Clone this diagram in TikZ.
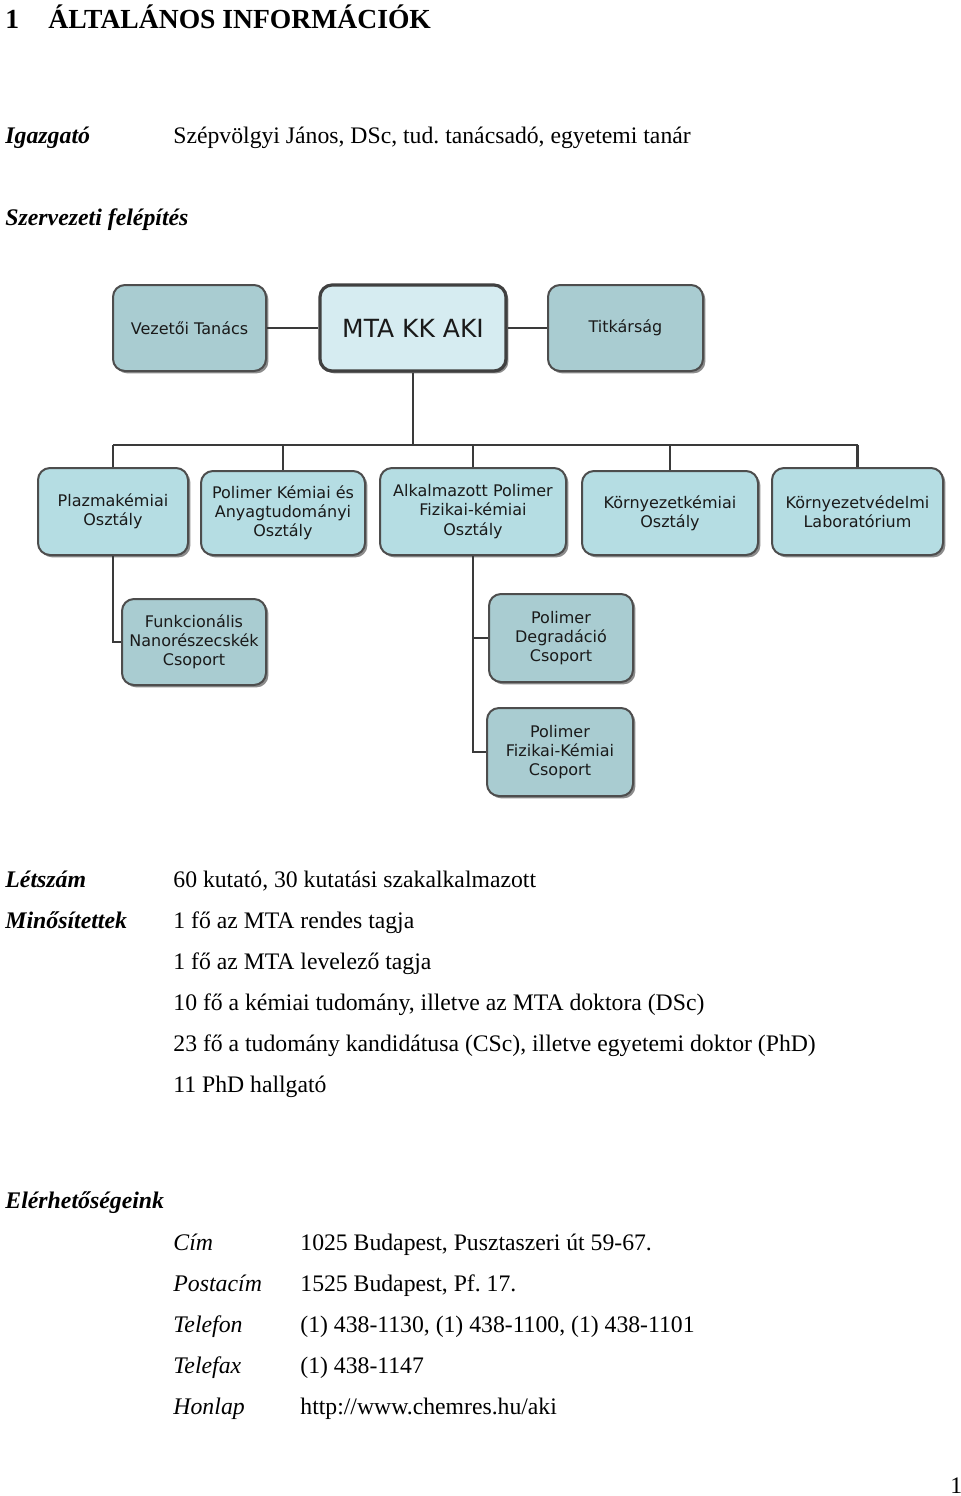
\documentclass[tikz,border=0pt]{standalone}
\usepackage{fontspec}
\setmainfont{Liberation Serif}
\newfontfamily\boxfont{DejaVu Sans}
\usetikzlibrary{shadows}
\frenchspacing
\definecolor{sidefill}{HTML}{A9CCD1}
\definecolor{mtafill}{HTML}{D6ECF1}
\definecolor{rowfill}{HTML}{B5DDE3}
\definecolor{subfill}{HTML}{A9CCD1}
\definecolor{boxline}{HTML}{4D4D4D}
\definecolor{conn}{HTML}{3A3A3A}
\definecolor{boxtext}{HTML}{1A1A1A}
\tikzset{
  lbl/.style={anchor=base west, inner sep=0pt, font=\fontsize{11.9}{14}\selectfont\bfseries\itshape},
  txt/.style={anchor=base west, inner sep=0pt, font=\fontsize{11.85}{14}\selectfont},
  itl/.style={anchor=base west, inner sep=0pt, font=\fontsize{11.9}{14}\selectfont\itshape},
  ttl/.style={anchor=base west, inner sep=0pt, font=\fontsize{13.8}{16}\selectfont\bfseries},
  orgbox/.style={draw=boxline, line width=1pt, rounded corners=6pt, align=center,
    inner sep=1pt, text=boxtext, font=\boxfont\fontsize{8}{9.6}\selectfont,
    drop shadow={shadow xshift=1.2pt, shadow yshift=-1.2pt, fill=black!45, opacity=1}},
  sidebox/.style={orgbox, fill=sidefill},
  mtabox/.style={orgbox, fill=mtafill, line width=1.6pt, draw=black!75, font=\boxfont\fontsize{12.5}{14}\selectfont},
  rowbox/.style={orgbox, fill=rowfill},
  subbox/.style={orgbox, fill=subfill},
  link/.style={draw=conn, line width=1.2pt}
}
\begin{document}
\begin{tikzpicture}[x=0.5pt, y=-0.5pt]
\useasboundingbox[fill=white] (0,0) rectangle (960,1496);

% --- heading and text ---
\node[ttl] (t1) at (5,28) {1};
\node[ttl] (t2) at (48,28) {ÁLTALÁNOS INFORMÁCIÓK};
\node[lbl] (ig) at (5,143) {Igazgató};
\node[txt] (igv) at (173,143) {\frenchspacing Szépvölgyi János, DSc, tud. tanácsadó, egyetemi tanár};
\node[lbl] (szf) at (5,225) {Szervezeti felépítés};

% --- org chart ---
\node[sidebox, minimum width=76.5pt, minimum height=43pt] (vez) at (189.5,328) {Vezetői Tanács};
\node[mtabox, minimum width=93pt, minimum height=43pt] (mta) at (413,328) {MTA KK AKI};
\node[sidebox, minimum width=77.5pt, minimum height=43pt] (tit) at (625.5,328) {Titkárság};

\node[rowbox, minimum width=75pt, minimum height=43.5pt] (plaz) at (113,511.5) {Plazmakémiai\\Osztály};
\node[rowbox, minimum width=82pt, minimum height=42pt] (pol) at (283,513) {Polimer Kémiai és\\Anyagtudományi\\Osztály};
\node[rowbox, minimum width=93pt, minimum height=43.5pt] (alk) at (473,511.5) {Alkalmazott Polimer\\Fizikai-kémiai\\Osztály};
\node[rowbox, minimum width=88pt, minimum height=42pt] (kor) at (670,513) {Környezetkémiai\\Osztály};
\node[rowbox, minimum width=85.5pt, minimum height=43.5pt] (kvl) at (857.5,511.5) {Környezetvédelmi\\Laboratórium};

\node[subbox, minimum width=72pt, minimum height=43pt] (funk) at (194,642) {Funkcionális\\Nanorészecskék\\Csoport};
\node[subbox, minimum width=72pt, minimum height=44pt] (deg) at (561,638) {Polimer\\Degradáció\\Csoport};
\node[subbox, minimum width=73pt, minimum height=44pt] (fiz) at (560,752) {Polimer\\Fizikai-Kémiai\\Csoport};

\coordinate (busL) at (113,445);
\coordinate (busR) at (857.5,445);
\draw[link] (vez.east) -- (mta.west);
\draw[link] (mta.east) -- (tit.west);
\draw[link] (mta.south) -- (mta.south |- busL);
\draw[link] (busL) -- (busR);
\foreach \n in {plaz,pol,alk,kor,kvl} {\draw[link] (\n.north) -- (\n.north |- busL);}
\draw[link] (plaz.south) |- (funk.west);
\draw[link] (alk.south) |- (fiz.west);
\draw[link] (alk.south |- deg.west) -- (deg.west);

% --- staff ---
\node[lbl] (lsz) at (5,887) {Létszám};
\node[txt] (lszv) at (173,887) {60 kutató, 30 kutatási szakalkalmazott};
\node[lbl] (min) at (5,928) {Minősítettek};
\node[txt] (m1) at (173,928) {1 fő az MTA rendes tagja};
\node[txt] (m2) at (173,969) {1 fő az MTA levelező tagja};
\node[txt] (m3) at (173,1010) {10 fő a kémiai tudomány, illetve az MTA doktora (DSc)};
\node[txt] (m4) at (173,1051) {23 fő a tudomány kandidátusa (CSc), illetve egyetemi doktor (PhD)};
\node[txt] (m5) at (173,1092) {11 PhD hallgató};

% --- contacts ---
\node[lbl] (el) at (5,1208) {Elérhetőségeink};
\node[itl] (c1) at (173,1250) {Cím};
\node[txt] (c1v) at (300,1250) {1025 Budapest, Pusztaszeri út 59-67.};
\node[itl] (c2) at (173,1291) {Postacím};
\node[txt] (c2v) at (300,1291) {\frenchspacing 1525 Budapest, Pf. 17.};
\node[itl] (c3) at (173,1332) {Telefon};
\node[txt] (c3v) at (300,1332) {(1) 438-1130, (1) 438-1100, (1) 438-1101};
\node[itl] (c4) at (173,1373) {Telefax};
\node[txt] (c4v) at (300,1373) {(1) 438-1147};
\node[itl] (c5) at (173,1414) {Honlap};
\node[txt] (c5v) at (300,1414) {http://www.chemres.hu/aki};

\node[txt] (pg) at (950,1493) {1};
\end{tikzpicture}
\end{document}
